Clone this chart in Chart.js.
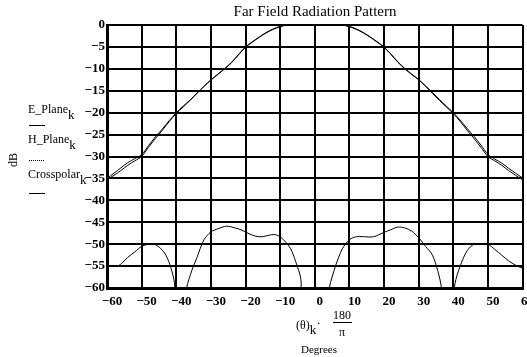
<!DOCTYPE html>
<html lang="en">
<head>
    <meta charset="UTF-8">
    <title>Far Field Radiation Pattern</title>
    <script src="https://cdn.jsdelivr.net/npm/chart.js"></script>
    <style>
        html, body {
            margin: 0;
            padding: 0;
            background: #fff;
            overflow: hidden;
        }
        #wrap {
            position: relative;
            width: 535px;
            height: 357px;
        }
    </style>
</head>
<body>
    <div id="wrap"><canvas id="patternChart"></canvas></div>

    <script>
        // angles in degrees
        const angles = [-60, -58, -56, -54, -52, -50, -48, -46, -44, -42, -40, -38, -36, -34, -32, -30, -28, -26, -24, -22,
            -20, -18, -16, -14, -12, -10, -8, -6, -4, -2, 0, 2, 4, 6, 8, 10, 12, 14, 16, 18, 20, 22, 24, 26, 28, 30,
            32, 34, 36, 38, 40, 42, 44, 46, 48, 50, 52, 54, 56, 58, 60];

        const ePlane = [-35.3, -34.3, -33.2, -32.0, -31.0, -30.0, -27.9, -25.9, -24.0, -22.0, -20.2, -18.7, -17.2, -15.6, -14.0,
            -12.6, -11.3, -10.0, -8.6, -6.8, -5.1, -3.9, -2.8, -1.8, -1.0, -0.4, 0.0, 0.3, 0.5, 0.6, 0.6, 0.6, 0.5, 0.3,
            0.0, -0.4, -1.0, -1.8, -2.8, -3.9, -5.1, -6.7, -8.5, -10.0, -11.3, -12.5, -14.0, -15.6, -17.2, -18.7, -20.2,
            -22.0, -24.0, -25.9, -27.9, -30.0, -31.0, -32.0, -33.2, -34.3, -35.3];

        const hPlane = [-35.0, -33.8, -32.6, -31.4, -30.5, -29.6, -27.5, -25.5, -23.7, -21.8, -20.0, -18.5, -17.1, -15.5, -14.0,
            -12.5, -11.2, -9.9, -8.5, -6.7, -5.0, -3.8, -2.7, -1.7, -0.9, -0.3, 0.1, 0.4, 0.6, 0.7, 0.7, 0.7, 0.6, 0.4,
            0.1, -0.3, -0.9, -1.7, -2.7, -3.8, -5.0, -6.6, -8.4, -9.9, -11.2, -12.4, -13.9, -15.4, -17.0, -18.5, -20.0,
            -21.7, -23.6, -25.4, -27.4, -29.5, -30.6, -31.5, -32.7, -33.8, -34.9];

        const crossAngles = [-60, -57, -55.5, -54, -52, -50, -48, -46.5, -45, -43, -41.5, -40.5, -40, -37.5, -37, -35.5, -34, -32,
            -30, -28, -25.5, -23, -21, -19, -17, -15, -13, -11, -9, -7, -5.5, -4, -3.5, 3.5, 4.2, 6, 8, 10, 12, 14, 17,
            20, 22, 24, 26, 28, 30, 32, 34, 35.5, 36.5, 37, 39.8, 40.5, 42, 44, 46, 48, 50, 52, 54, 56, 58, 60];

        const crosspolar = [-55.0, -55.0, -54.2, -53.0, -51.8, -50.5, -50.0, -50.0, -50.6, -52.5, -55.5, -59.0, -65, -65, -60.0,
            -56.0, -53.0, -49.0, -47.2, -46.5, -45.9, -46.3, -46.8, -47.6, -48.2, -48.3, -47.9, -47.9, -49.0, -51.0, -54.0, -58.0,
            -65, -65, -60.0, -55.0, -51.0, -49.0, -48.3, -48.3, -48.3, -47.3, -46.7, -46.1, -46.3, -47.0, -48.5, -50.5, -52.5,
            -56.0, -59.5, -65, -65, -59.0, -55.0, -51.5, -50.0, -50.0, -50.0, -51.2, -52.5, -53.8, -54.8, -55.5];

        const yTicks = [0, -5, -10, -15, -20, -25, -30, -35, -40, -45, -50, -55, -60];
        const xTicks = [-60, -50, -40, -30, -20, -10, 0, 10, 20, 30, 40, 50, 60];

        const serif = '"Liberation Serif", "DejaVu Serif", serif';

        function fmt(v) {
            return v < 0 ? '\u2212' + Math.abs(v) : String(v);
        }

        // text around the plot: title, legend labels, axis titles
        const annotations = {
            id: 'annotations',
            afterDraw(chart) {
                const ctx = chart.ctx;
                ctx.save();
                ctx.fillStyle = '#000';
                ctx.strokeStyle = '#000';
                ctx.textBaseline = 'alphabetic';

                // title
                ctx.font = '15px ' + serif;
                ctx.textAlign = 'center';
                ctx.fillText('Far Field Radiation Pattern', 315, 16);

                // legend names with subscript k
                ctx.textAlign = 'left';
                const items = [
                    { name: 'E_Plane', y: 113, lineY: 125, dash: [] },
                    { name: 'H_Plane', y: 143, lineY: 160, dash: [1, 1] },
                    { name: 'Crosspolar', y: 178, lineY: 193, dash: [] }
                ];
                items.forEach(it => {
                    ctx.font = '12px ' + serif;
                    ctx.fillText(it.name, 28, it.y);
                    const w = ctx.measureText(it.name).width;
                    ctx.font = '13px ' + serif;
                    ctx.fillText('k', 28 + w, it.y + 6);
                    ctx.beginPath();
                    ctx.setLineDash(it.dash);
                    ctx.lineWidth = 1;
                    ctx.moveTo(29, it.lineY + 0.5);
                    ctx.lineTo(45, it.lineY + 0.5);
                    ctx.stroke();
                    ctx.setLineDash([]);
                });

                // y axis title
                ctx.save();
                ctx.translate(17, 160);
                ctx.rotate(-Math.PI / 2);
                ctx.font = '12px ' + serif;
                ctx.textAlign = 'center';
                ctx.fillText('dB', 0, 0);
                ctx.restore();

                // x axis title: (θ)k · 180/π
                ctx.font = '12px ' + serif;
                ctx.textAlign = 'left';
                ctx.fillText('(\u03b8)', 296, 329);
                const tw = ctx.measureText('(\u03b8)').width;
                ctx.font = '13px ' + serif;
                ctx.fillText('k', 296 + tw, 334);
                ctx.font = '12px ' + serif;
                ctx.fillText('\u00b7', 296 + tw + 7, 327);
                ctx.textAlign = 'center';
                ctx.fillText('180', 342, 319);
                ctx.beginPath();
                ctx.lineWidth = 1;
                ctx.moveTo(333, 322.5);
                ctx.lineTo(352, 322.5);
                ctx.stroke();
                ctx.fillText('\u03c0', 342, 336);
                ctx.font = '11px ' + serif;
                ctx.fillText('Degrees', 319, 353);

                ctx.restore();
            }
        };

        function loadPatternChart() {
            const ctx = document.getElementById('patternChart').getContext('2d');
            const toPoints = (xs, ys) => xs.map((x, i) => ({ x: x, y: ys[i] }));

            new Chart(ctx, {
                type: 'line',
                data: {
                    datasets: [{
                        label: 'E_Plane',
                        data: toPoints(angles, ePlane),
                        borderColor: '#000',
                        borderWidth: 1,
                        pointRadius: 0,
                        tension: 0.3
                    }, {
                        label: 'H_Plane',
                        data: toPoints(angles, hPlane),
                        borderColor: '#000',
                        borderWidth: 1,
                        pointRadius: 0,
                        tension: 0.3
                    }, {
                        label: 'Crosspolar',
                        data: toPoints(crossAngles, crosspolar),
                        borderColor: '#000',
                        borderWidth: 1,
                        pointRadius: 0,
                        tension: 0.3
                    }]
                },
                options: {
                    responsive: false,
                    animation: false,
                    layout: { padding: { top: 25, right: 4, left: 0, bottom: 0 } },
                    plugins: {
                        legend: { display: false },
                        title: { display: false },
                        tooltip: { enabled: false }
                    },
                    scales: {
                        x: {
                            type: 'linear',
                            min: -60,
                            max: 60,
                            afterBuildTicks: axis => { axis.ticks = xTicks.map(v => ({ value: v })); },
                            afterFit: axis => { axis.height = 69; },
                            grid: { color: '#000', lineWidth: 2, drawTicks: false },
                            border: { color: '#000', width: 3 },
                            ticks: {
                                color: '#000',
                                font: { family: serif, size: 13, weight: 'bold' },
                                padding: 6,
                                labelOffset: 5,
                                maxRotation: 0,
                                callback: v => fmt(v)
                            }
                        },
                        y: {
                            min: -60,
                            max: 0,
                            afterBuildTicks: axis => { axis.ticks = yTicks.map(v => ({ value: v })); },
                            afterFit: axis => { axis.width = 107; },
                            grid: { color: '#000', lineWidth: 2, drawTicks: false },
                            border: { color: '#000', width: 3 },
                            ticks: {
                                color: '#000',
                                font: { family: serif, size: 13, weight: 'bold' },
                                padding: 2,
                                callback: v => fmt(v)
                            }
                        }
                    }
                },
                plugins: [annotations]
            });
        }

        const canvas = document.getElementById('patternChart');
        canvas.width = 535;
        canvas.height = 357;
        loadPatternChart();
    </script>
</body>
</html>
